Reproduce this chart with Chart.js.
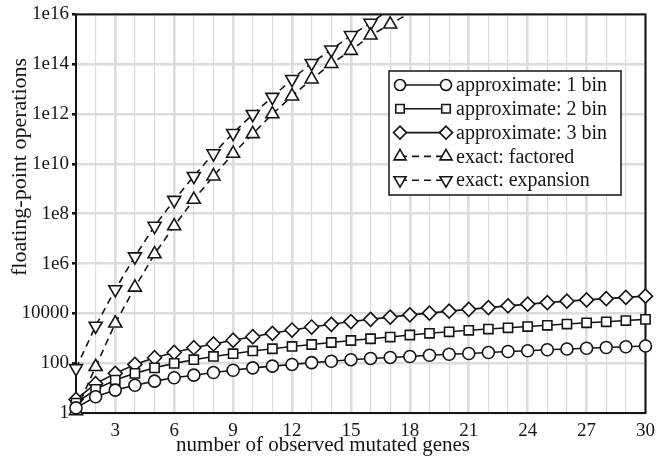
<!DOCTYPE html>
<html>
<head>
<meta charset="utf-8">
<script src="https://cdn.jsdelivr.net/npm/chart.js"></script>
<style>body{margin:0;background:#fff}</style>
</head>
<body>
<canvas id="opsChart" width="658" height="463"></canvas>
<script>
// values (log y axis)
var genes = [1,2,3,4,5,6,7,8,9,10,11,12,13,14,15,16,17,18,19,20,21,22,23,24,25,26,27,28,29,30];
var oneBin = [1.6,4.5,8.3,13,19,26,33,42,52,65,76,89,105,120,138,155,170,186,209,229,245,269,295,316,347,372,398,427,457,490];
var twoBin = [2.5,8.9,21,39,65,98,138,186,240,309,380,468,562,676,813,955,1120,1350,1580,1820,2090,2340,2630,2950,3310,3720,4170,4570,5130,5750];
var threeBin = [3.5,15,39,89,166,269,417,589,832,1150,1580,2140,2820,3630,4680,5750,7080,8710,10200,12300,14500,17000,20000,23400,26900,30900,34700,38900,43700,49000];
var exactFactored = [1.2,72,4000,1.1e5,2.4e6,3.2e7,3.7e8,3.2e9,2.6e10,1.6e11,1e12,5.2e12,2.5e13,1.05e14,3.5e14,1.45e15,4e15,1.15e16];
var exactExpansion = [62,3100,9.1e4,1.9e6,3.2e7,3.5e8,3.2e9,2.6e10,1.7e11,9.8e11,4.8e12,2.5e13,1.1e14,3.8e14,1.45e15,4.5e15,1.7e16];
var seriesNames = ['approximate: 1 bin','approximate: 2 bin','approximate: 3 bin','exact: factored','exact: expansion'];
var yTicks = [1,100,1e4,1e6,1e8,1e10,1e12,1e14,1e16];
var yTickLabels = ['1','100','10000','1e6','1e8','1e10','1e12','1e14','1e16'];
var xTicks = [3,6,9,12,15,18,21,24,27,30];
var xTitle = 'number of observed mutated genes';
var yTitle = 'floating-point operations';

var serif = '"Liberation Serif", "DejaVu Serif", serif';
var ink = '#151515';

function pts(vals) {
    return vals.map(function (v, i) { return {x: genes[i], y: v}; });
}

function series(label, vals, style, size, dashed, rot) {
    return {
        label: label,
        data: pts(vals),
        borderColor: ink,
        borderWidth: 1.6,
        borderDash: dashed ? [7, 5] : [],
        pointStyle: style,
        pointRotation: rot || 0,
        markerSize: size,
        pointRadius: function (c) { return c.raw && c.raw.y > 1e16 ? 0 : size; },
        pointBackgroundColor: '#fff',
        pointBorderColor: ink,
        pointBorderWidth: 1.6,
        tension: 0,
        fill: false,
        clip: {left: 9, right: 9, top: 0, bottom: 9}
    };
}

var framePlugin = {
    id: 'frame',
    beforeDatasetsDraw: function (chart) {
        var a = chart.chartArea, ctx = chart.ctx;
        ctx.save();
        ctx.strokeStyle = ink;
        ctx.lineWidth = 2;
        ctx.strokeRect(a.left, a.top, a.right - a.left, a.bottom - a.top);
        ctx.restore();
    }
};

var titlesPlugin = {
    id: 'titles',
    afterDraw: function (chart) {
        var ctx = chart.ctx;
        ctx.save();
        ctx.fillStyle = ink;
        ctx.font = '21px ' + serif;
        ctx.textAlign = 'center';
        ctx.textBaseline = 'middle';
        ctx.fillText(xTitle, 323, 445);
        ctx.font = '22px ' + serif;
        ctx.translate(20, 167);
        ctx.rotate(-Math.PI / 2);
        ctx.fillText(yTitle, 0, 0);
        ctx.restore();
    }
};

var legendPlugin = {
    id: 'boxLegend',
    afterDraw: function (chart) {
        var ctx = chart.ctx;
        ctx.save();
        ctx.fillStyle = '#fff';
        ctx.strokeStyle = ink;
        ctx.lineWidth = 1.5;
        ctx.fillRect(389, 71, 232, 124);
        ctx.strokeRect(389, 71, 232, 124);
        chart.data.datasets.forEach(function (ds, i) {
            var y = 85 + i * 23.8;
            ctx.strokeStyle = ink;
            ctx.lineWidth = 1.6;
            ctx.setLineDash(ds.borderDash);
            ctx.beginPath();
            ctx.moveTo(400, y);
            ctx.lineTo(446, y);
            ctx.stroke();
            ctx.setLineDash([]);
            ctx.fillStyle = '#fff';
            [400, 446].forEach(function (px) {
                Chart.helpers.drawPoint(ctx, {
                    pointStyle: ds.pointStyle, rotation: ds.pointRotation,
                    radius: ds.markerSize - 0.5, borderWidth: 1.5
                }, px, y);
            });
            ctx.fillStyle = ink;
            ctx.font = '20px ' + serif;
            ctx.textAlign = 'left';
            ctx.textBaseline = 'middle';
            ctx.fillText(ds.label, 456, y + 1);
        });
        ctx.restore();
    }
};

var ctx = document.getElementById('opsChart').getContext('2d');
var opsChart = new Chart(ctx, {
    type: 'line',
    data: {
        datasets: [
            series(seriesNames[0], oneBin, 'circle', 6),
            series(seriesNames[1], twoBin, 'rect', 6.5),
            series(seriesNames[2], threeBin, 'rectRot', 7),
            series(seriesNames[3], exactFactored, 'triangle', 7.5, true),
            series(seriesNames[4], exactExpansion, 'triangle', 7.5, true, 180)
        ]
    },
    options: {
        responsive: false,
        animation: false,
        devicePixelRatio: 1,
        layout: { padding: {top: 14, right: 11, left: 0, bottom: 0} },
        plugins: { legend: { display: false }, tooltip: { enabled: false } },
        scales: {
            x: {
                type: 'linear',
                min: 1,
                max: 30,
                afterFit: function (s) { s.height = 50; },
                border: { display: false },
                grid: {
                    color: '#dcdcdc',
                    lineWidth: function (c) { return c.tick && xTicks.indexOf(c.tick.value) >= 0 ? 2.6 : 1.2; },
                    tickLength: 4,
                    tickColor: 'rgba(0,0,0,0)'
                },
                ticks: {
                    stepSize: 1,
                    autoSkip: false,
                    maxRotation: 0,
                    color: ink,
                    font: { family: serif, size: 19 },
                    callback: function (v) { return xTicks.indexOf(v) >= 0 ? String(v) : ''; }
                }
            },
            y: {
                type: 'logarithmic',
                min: 1,
                max: 1e16,
                afterFit: function (s) { s.width = 76; },
                afterBuildTicks: function (s) {
                    s.ticks = yTicks.map(function (v) { return {value: v}; });
                },
                border: { display: false },
                grid: {
                    color: '#dcdcdc',
                    lineWidth: 2.6,
                    tickLength: 4,
                    tickColor: ink
                },
                ticks: {
                    autoSkip: false,
                    color: ink,
                    font: { family: serif, size: 19 },
                    callback: function (v, i) { return yTickLabels[i]; }
                }
            }
        }
    },
    plugins: [framePlugin, titlesPlugin, legendPlugin]
});
</script>
</body>
</html>
